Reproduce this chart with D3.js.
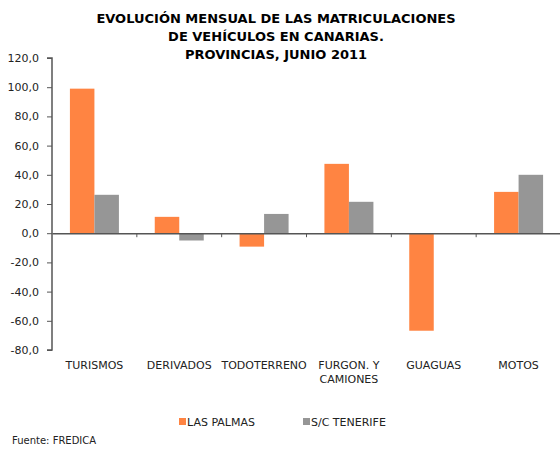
<!DOCTYPE html>
<html lang='es'>
  <head>
    <meta charset='utf-8'>
    <style type='text/css'>
      body {margin: 0; background-color: #fff;}
      svg text {font-family: 'DejaVu Sans', Verdana, sans-serif; fill: #222;}
    </style>
  </head>
  <body>
    <svg id='chart' width='560' height='449'></svg>

    <script src='https://d3js.org/d3.v7.min.js'></script>
    <script type='text/javascript'>
        // Chart data
        var categories = ["TURISMOS", "DERIVADOS", "TODOTERRENO", "FURGON. Y|CAMIONES", "GUAGUAS", "MOTOS"];
        var lasPalmas  = [99.0, 11.2, -9.2, 47.5, -66.8, 28.3];
        var tenerife   = [26.3, -5.0, 13.2, 21.5, 0.0, 40.0];
        var seriesNames = ["LAS PALMAS", "S/C TENERIFE"];
        var yTicks = [-80, -60, -40, -20, 0, 20, 40, 60, 80, 100, 120];
        var titleLines = ["EVOLUCIÓN MENSUAL DE LAS MATRICULACIONES", "DE VEHÍCULOS EN CANARIAS.", "PROVINCIAS, JUNIO 2011"];

        var colors = ["#ff8442", "#969696"];

        var svg = d3.select("#chart");

        var plotLeft = 52, plotRight = 561, plotTop = 58, plotBottom = 350;

        // Scales
        var x = d3.scaleBand().domain(categories).range([plotLeft, plotRight]);
        var inner = d3.scaleBand().domain([0, 1]).range([0, 49]);
        var y = d3.scaleLinear().domain([-80, 120]).range([plotBottom, plotTop]);

        // Title
        svg.append("g").selectAll("text")
          .data(titleLines)
          .enter().append("text")
            .attr("x", 276)
            .attr("y", function(d, i) { return 23 + i * 18; })
            .attr("text-anchor", "middle")
            .style("font-weight", "bold")
            .style("font-size", "13px")
            .style("fill", "#000")
            .text(function(d) { return d; });

        // Bars
        var rows = categories.map(function(c, i) { return {cat: c, vals: [lasPalmas[i], tenerife[i]]}; });
        var groups = svg.append("g").selectAll("g")
          .data(rows)
          .enter().append("g")
            .attr("transform", function(d) { return "translate(" + (x(d.cat) + (x.bandwidth() - 49) / 2) + ",0)"; });

        groups.selectAll("rect")
          .data(function(d) { return d.vals; })
          .enter().append("rect")
            .attr("x", function(d, i) { return inner(i); })
            .attr("y", function(d) { return y(Math.max(0, d)); })
            .attr("width", inner.bandwidth())
            .attr("height", function(d) { return Math.abs(y(d) - y(0)); })
            .attr("fill", function(d, i) { return colors[i]; });

        // Left axis (comma decimals, plain hyphen minus)
        var fmt = d3.format(".1f");
        var yAxis = svg.append("g")
            .attr("transform", "translate(" + plotLeft + ",0)")
            .call(d3.axisLeft(y).tickValues(yTicks).tickSize(5).tickPadding(8)
              .tickFormat(function(d) { return fmt(d).replace(".", ",").replace("\u2212", "-"); }));
        yAxis.select(".domain").attr("stroke", "#555").attr("stroke-width", 1.5)
            .attr("d", "M-5," + plotTop + "H0V" + plotBottom + "H-5");
        yAxis.selectAll(".tick line").attr("stroke", "#555");
        yAxis.selectAll(".tick text").style("font-size", "11px").style("font-family", "'DejaVu Sans', Verdana, sans-serif").attr("fill", "#222");

        // Zero line with category ticks
        var xAxis = svg.append("g")
            .attr("transform", "translate(0," + y(0) + ")")
            .call(d3.axisBottom(x).tickSize(0).tickFormat(""));
        xAxis.select(".domain").attr("stroke", "#555").attr("stroke-width", 1.5);
        xAxis.selectAll(".tick").remove();
        xAxis.selectAll(".sep")
          .data(categories.slice(1))
          .enter().append("line")
            .attr("x1", function(d) { return x(d); })
            .attr("x2", function(d) { return x(d); })
            .attr("y1", 0).attr("y2", 4)
            .attr("stroke", "#555");

        // Category labels
        var labels = svg.append("g").selectAll("text")
          .data(categories)
          .enter().append("text")
            .attr("x", function(d) { return x(d) + x.bandwidth() / 2; })
            .attr("y", 369)
            .attr("text-anchor", "middle")
            .style("font-size", "11px");
        labels.selectAll("tspan")
          .data(function(d) { return d.split("|"); })
          .enter().append("tspan")
            .attr("x", function() { return this.parentNode.getAttribute("x"); })
            .attr("dy", function(d, i) { return i ? 14 : 0; })
            .text(function(d) { return d; });

        // Legend
        var legendX = [179, 303];
        var legend = svg.append("g").selectAll("g")
          .data(seriesNames)
          .enter().append("g")
            .attr("transform", function(d, i) { return "translate(" + legendX[i] + ",418)"; });
        legend.append("rect")
            .attr("width", 7).attr("height", 7)
            .attr("fill", function(d, i) { return colors[i]; });
        legend.append("text")
            .attr("x", 8).attr("y", 8)
            .style("font-size", "11px")
            .text(function(d) { return d; });

        // Source
        svg.append("text")
            .attr("x", 12).attr("y", 444)
            .style("font-size", "10px")
            .text("Fuente: FREDICA");
    </script>
  </body>
</html>
